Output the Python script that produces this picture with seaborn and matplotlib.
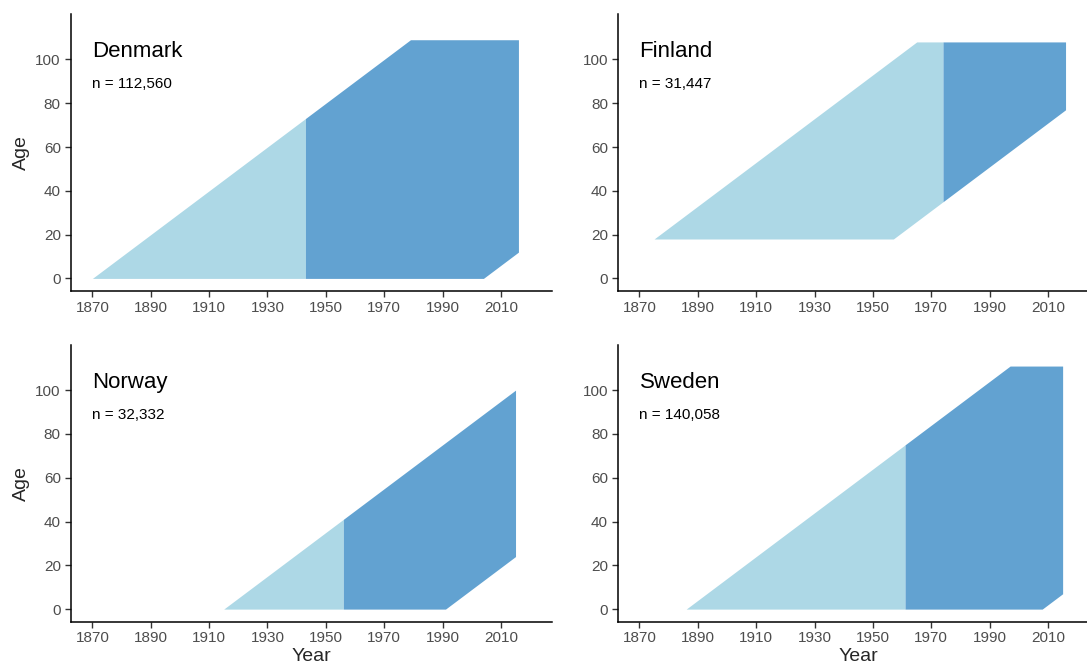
import numpy as np
import matplotlib
matplotlib.use("Agg")
import matplotlib.pyplot as plt
import seaborn as sns

# Lexis-diagram coverage of each cohort
countries = ["Denmark", "Finland", "Norway", "Sweden"]
sample_sizes = ["n = 112,560", "n = 31,447", "n = 32,332", "n = 140,058"]
first_birth_year = [1870, 1857, 1915, 1886]
last_birth_year = [2004, 1939, 1991, 2008]
registry_start = [1943, 1974, 1956, 1961]
follow_up_end = [2016, 2016, 2015, 2015]
min_age = [0, 18, 0, 0]
max_age = [109, 108, 115, 111]

x_ticks = [1870, 1890, 1910, 1930, 1950, 1970, 1990, 2010]
y_ticks = [0, 20, 40, 60, 80, 100]

light_blue = "#ADD8E6"
dark_blue = "#62A2D1"

sns.set_style("ticks")
plt.rcParams["font.family"] = ["Liberation Sans", "DejaVu Sans"]

W, H = 1087, 666
fig = plt.figure(figsize=(W / 100, H / 100), dpi=100)

col_left = [70.5, 617.6]
col_width = 481.5
row_top = [14.0, 344.7]
row_height = 277.0


def lexis_band(b0, b1, a0, a1, t_start, t_stop):
    """Year grid plus lower/upper age bounds of the cohort band."""
    kinks = [t_start, t_stop, b1 + a0, b0 + a1]
    years = np.array(sorted({k for k in kinks if t_start <= k <= t_stop}), dtype=float)
    lower = np.maximum(a0, years - b1)
    upper = np.minimum(a1, years - b0)
    return years, lower, upper


for i, name in enumerate(countries):
    r, c = divmod(i, 2)
    left = col_left[c] / W
    bottom = 1 - (row_top[r] + row_height) / H
    ax = fig.add_axes([left, bottom, col_width / W, row_height / H])

    b0, b1 = first_birth_year[i], last_birth_year[i]
    a0, a1 = min_age[i], max_age[i]
    t0 = b0 + a0
    split = registry_start[i]
    end = follow_up_end[i]

    yrs, lo, hi = lexis_band(b0, b1, a0, a1, t0, split)
    ax.fill_between(yrs, lo, hi, color=light_blue, linewidth=0)
    yrs, lo, hi = lexis_band(b0, b1, a0, a1, split, end)
    ax.fill_between(yrs, lo, hi, color=dark_blue, linewidth=0)

    ax.text(1870, 101, name, fontsize=16, ha="left", va="baseline", color="black")
    ax.text(1870, 87, sample_sizes[i], fontsize=11, ha="left", va="baseline", color="black")

    ax.set_xlim(1862.5, 2027.5)
    ax.set_ylim(-5.75, 120.75)
    ax.set_xticks(x_ticks)
    ax.set_yticks(y_ticks)
    ax.tick_params(axis="both", labelsize=11, labelcolor="#4D4D4D", color="#333333",
                   length=4, width=1.0, pad=3)
    sns.despine(ax=ax)
    for side in ("left", "bottom"):
        ax.spines[side].set_linewidth(1.1)
        ax.spines[side].set_color("black")

    ax.set_xlabel("Year" if r == 1 else "", fontsize=14, labelpad=2)
    ax.set_ylabel("Age" if c == 0 else "", fontsize=14, labelpad=4)

fig.savefig("out.png", dpi=100)
